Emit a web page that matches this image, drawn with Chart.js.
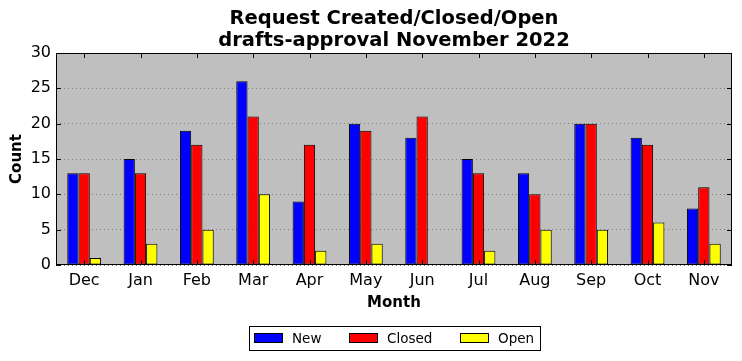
<!DOCTYPE html>
<html>
<head>
<meta charset="utf-8">
<script src="https://cdn.jsdelivr.net/npm/chart.js@4/dist/chart.umd.min.js"></script>
<style>
  html, body { margin: 0; padding: 0; background: #ffffff; }
  #wrap { width: 742px; height: 361px; position: relative; }
</style>
</head>
<body>
<div id="wrap"><canvas id="c" width="742" height="361"></canvas></div>
<script>
const months = ["Dec", "Jan", "Feb", "Mar", "Apr", "May", "Jun", "Jul", "Aug", "Sep", "Oct", "Nov"];
const newCounts = [13, 15, 19, 26, 9, 20, 18, 15, 13, 20, 18, 8];
const closedCounts = [13, 13, 17, 21, 17, 19, 21, 13, 10, 20, 17, 11];
const openCounts = [1, 3, 5, 10, 2, 3, 0, 2, 5, 5, 6, 3];
const yTicks = [0, 5, 10, 15, 20, 25, 30];
const titleLines = ["Request Created/Closed/Open", "drafts-approval November 2022"];
const xTitle = "Month";
const yTitle = "Count";
const seriesNames = ["New", "Closed", "Open"];
const seriesColors = ["#0000ff", "#ff0000", "#ffff00"];

const FONT = "'DejaVu Sans', sans-serif";

const decorPlugin = {
  id: 'decor',
  beforeDraw(chart) {
    const {ctx, chartArea: a} = chart;
    ctx.save();
    ctx.fillStyle = '#bfbfbf';
    ctx.fillRect(a.left, a.top, a.right - a.left, a.bottom - a.top);
    ctx.restore();
  },
  afterDraw(chart) {
    const {ctx, chartArea: a} = chart;
    const xs = chart.scales.x, ys = chart.scales.y;
    ctx.save();
    // frame
    ctx.strokeStyle = '#000';
    ctx.lineWidth = 1;
    ctx.strokeRect(Math.round(a.left) + 0.5, Math.round(a.top) + 0.5, Math.round(a.right - a.left) - 1, Math.round(a.bottom - a.top) - 1);
    // ticks inside
    ctx.beginPath();
    for (let i = 0; i < months.length; i++) {
      const x = Math.round(xs.getPixelForValue(i)) + 0.5;
      ctx.moveTo(x, a.bottom); ctx.lineTo(x, a.bottom - 5);
      ctx.moveTo(x, a.top); ctx.lineTo(x, a.top + 5);
    }
    for (const v of yTicks) {
      const y = Math.round(ys.getPixelForValue(v)) + 0.5;
      ctx.moveTo(a.left, y); ctx.lineTo(a.left + 5, y);
      ctx.moveTo(a.right, y); ctx.lineTo(a.right - 5, y);
    }
    ctx.stroke();

    const cx = (a.left + a.right) / 2;
    // title
    ctx.fillStyle = '#000';
    ctx.textAlign = 'center';
    ctx.textBaseline = 'middle';
    ctx.font = "bold 19.5px " + FONT;
    ctx.fillText(titleLines[0], cx, 19);
    ctx.fillText(titleLines[1], cx, 41);
    // axis titles
    ctx.font = "bold 15px " + FONT;
    ctx.fillText(xTitle, cx, 303);
    ctx.save();
    ctx.translate(17, (a.top + a.bottom) / 2);
    ctx.rotate(-Math.PI / 2);
    ctx.fillText(yTitle, 0, 0);
    ctx.restore();

    // legend
    const lx = 249.5, ly = 326.5, lw = 291, lh = 24;
    ctx.fillStyle = '#fff';
    ctx.fillRect(lx, ly, lw, lh);
    ctx.strokeStyle = '#000';
    ctx.strokeRect(lx, ly, lw, lh);
    const sw = [254, 349, 460];
    ctx.font = "13.5px " + FONT;
    ctx.textAlign = 'left';
    for (let i = 0; i < 3; i++) {
      ctx.fillStyle = seriesColors[i];
      ctx.fillRect(sw[i] + 0.5, 333.5, 28, 9);
      ctx.strokeRect(sw[i] + 0.5, 333.5, 28, 9);
      ctx.fillStyle = '#000';
      ctx.fillText(seriesNames[i], sw[i] + 38, 339);
    }
    ctx.restore();
  }
};

const ds = (label, data, color) => ({
  label, data,
  backgroundColor: color,
  borderColor: '#000',
  borderWidth: 1,
  borderSkipped: false,
  categoryPercentage: 0.6,
  barPercentage: 1.0
});

new Chart(document.getElementById('c'), {
  type: 'bar',
  data: {
    labels: months,
    datasets: [
      ds(seriesNames[0], newCounts, seriesColors[0]),
      ds(seriesNames[1], closedCounts, seriesColors[1]),
      ds(seriesNames[2], openCounts, seriesColors[2])
    ]
  },
  options: {
    responsive: false,
    animation: false,
    devicePixelRatio: 1,
    layout: { padding: { top: 53, right: 10, left: 0, bottom: 0 } },
    plugins: {
      legend: { display: false },
      title: { display: false },
      tooltip: { enabled: false }
    },
    scales: {
      x: {
        grid: { display: false, drawTicks: false },
        border: { display: false },
        ticks: { color: '#000', font: { family: FONT, size: 16 }, padding: 6, maxRotation: 0 },
        afterFit(s) { s.height = 96; }
      },
      y: {
        min: 0, max: 30,
        afterBuildTicks(s) { s.ticks = yTicks.map(v => ({ value: v })); },
        grid: { color: '#808080', lineWidth: 1, drawTicks: false },
        border: { display: false, dash: [1, 3] },
        ticks: { color: '#000', font: { family: FONT, size: 16 }, padding: 5 },
        afterFit(s) { s.width = 56; }
      }
    }
  },
  plugins: [decorPlugin]
});
</script>
</body>
</html>
